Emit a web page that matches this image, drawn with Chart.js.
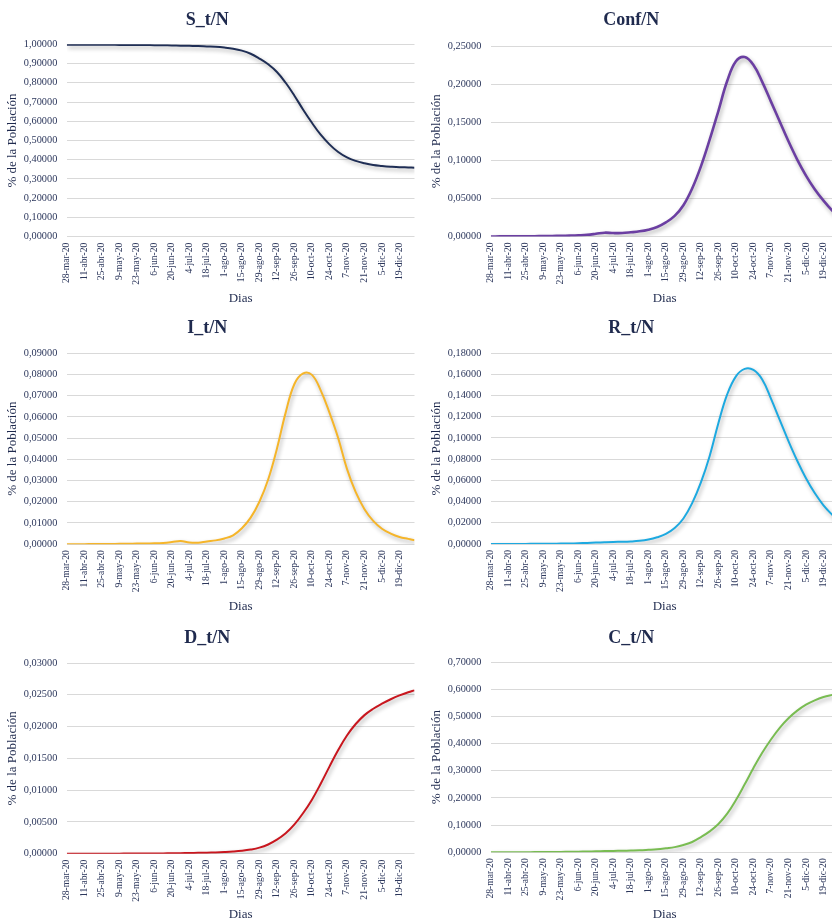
<!DOCTYPE html>
<html>
<head>
<meta charset="utf-8">
<script src="https://cdn.jsdelivr.net/npm/chart.js@4.4.1/dist/chart.umd.min.js"></script>
<style>
  html, body { margin: 0; padding: 0; width: 832px; height: 923px; overflow: hidden; background: #ffffff; }
  canvas { position: absolute; }
</style>
</head>
<body>
<canvas id="panel0"></canvas>
<canvas id="panel1"></canvas>
<canvas id="panel2"></canvas>
<canvas id="panel3"></canvas>
<canvas id="panel4"></canvas>
<canvas id="panel5"></canvas>
<script>
// Day offsets from 28-mar-20 of each sample (weekly, plus the last day 31-dic-20)
const sampleDays = [0, 7, 14, 21, 28, 35, 42, 49, 56, 63, 70, 77, 84, 91, 98, 105, 112, 119, 126, 133,
  140, 147, 154, 161, 168, 175, 182, 189, 196, 203, 210, 217, 224, 231, 238, 245, 252, 259, 266, 273, 278];

// Date labels shown on the x axis, one every 14 days
const xTickLabels = ['28-mar-20', '11-abr-20', '25-abr-20', '9-may-20', '23-may-20', '6-jun-20', '20-jun-20',
  '4-jul-20', '18-jul-20', '1-ago-20', '15-ago-20', '29-ago-20', '12-sep-20', '26-sep-20', '10-oct-20',
  '24-oct-20', '7-nov-20', '21-nov-20', '5-dic-20', '19-dic-20'];

const panelTitles = ['S_t/N', 'Conf/N', 'I_t/N', 'R_t/N', 'D_t/N', 'C_t/N'];

// Share of the population in each compartment
const sShare = [0.998, 0.998, 0.998, 0.998, 0.9975, 0.9975, 0.997, 0.997, 0.9965, 0.996,
  0.9955, 0.995, 0.994, 0.993, 0.992, 0.991, 0.989, 0.987, 0.983, 0.977,
  0.967, 0.951, 0.926, 0.896, 0.856, 0.800, 0.733, 0.660, 0.592, 0.530,
  0.480, 0.440, 0.412, 0.394, 0.382, 0.373, 0.368, 0.364, 0.361, 0.360, 0.359];

const confShare = [0.0000, 0.0001, 0.0001, 0.0002, 0.0003, 0.0004, 0.0005, 0.0007, 0.0009, 0.0012,
  0.0016, 0.0022, 0.0035, 0.0050, 0.0045, 0.0045, 0.0055, 0.0068, 0.0090, 0.0125,
  0.0185, 0.0270, 0.0410, 0.0630, 0.0920, 0.1270, 0.1650, 0.2040, 0.2300, 0.2355,
  0.2250, 0.2030, 0.1770, 0.1510, 0.1250, 0.1010, 0.0800, 0.0620, 0.0470, 0.0340, 0.0270];

const iShare = [0.0000, 0.0000, 0.0000, 0.0001, 0.0001, 0.0001, 0.0002, 0.0002, 0.0003, 0.0003,
  0.0004, 0.0006, 0.0010, 0.0015, 0.0008, 0.0007, 0.0013, 0.0018, 0.0027, 0.0042,
  0.0075, 0.0125, 0.0200, 0.0305, 0.0450, 0.0620, 0.0755, 0.0805, 0.0798, 0.0725,
  0.0620, 0.0500, 0.0355, 0.0245, 0.0165, 0.0110, 0.0073, 0.0050, 0.0034, 0.0025, 0.0019];

const rShare = [0.0000, 0.0000, 0.0000, 0.0001, 0.0001, 0.0002, 0.0002, 0.0003, 0.0004, 0.0005,
  0.0007, 0.0010, 0.0013, 0.0017, 0.0020, 0.0021, 0.0024, 0.0030, 0.0042, 0.0063,
  0.0095, 0.0150, 0.0240, 0.0385, 0.0580, 0.0830, 0.1140, 0.1410, 0.1580, 0.1650,
  0.1640, 0.1550, 0.1370, 0.1170, 0.0970, 0.0785, 0.0620, 0.0480, 0.0365, 0.0275, 0.0220];

const dShare = [0, 0, 0, 0.000002, 0.000004, 0.000006, 0.00001, 0.000015, 0.00002, 0.00003,
  0.00004, 0.00005, 0.00007, 0.00009, 0.00011, 0.00013, 0.00016, 0.0002, 0.00026, 0.00034,
  0.00046, 0.00065, 0.00095, 0.00145, 0.0022, 0.0032, 0.0046, 0.0064, 0.0085, 0.0110,
  0.0137, 0.0163, 0.0186, 0.0204, 0.0218, 0.0228, 0.0236, 0.0243, 0.0249, 0.0254, 0.0257];

const cShare = [0.0001, 0.0002, 0.0003, 0.0004, 0.0005, 0.0007, 0.0009, 0.0012, 0.0015, 0.0019,
  0.0024, 0.0030, 0.0037, 0.0044, 0.0050, 0.0055, 0.0062, 0.0072, 0.0092, 0.0115,
  0.0150, 0.0190, 0.0270, 0.0380, 0.0560, 0.0770, 0.1040, 0.1420, 0.1920, 0.2500,
  0.3100, 0.3660, 0.4150, 0.4580, 0.4930, 0.5210, 0.5430, 0.5590, 0.5710, 0.5790, 0.5840];

// Y-axis ranges
const yMaxima = [1.0, 0.25, 0.09, 0.18, 0.03, 0.7];
const yStepSizes = [0.1, 0.05, 0.01, 0.02, 0.005, 0.1];

const seriesValues = [sShare, confShare, iShare, rShare, dShare, cShare];
const lineColors = ['#1F2E55', '#6B3FA2', '#F5B52A', '#1DA9E0', '#C8161E', '#79BC52'];
const lineWidths = [2, 2.6, 2, 2, 2, 2];

// Placement of each panel on the page (canvas box, plot top/bottom, title and axis-title centres)
const frames = [
  { left: 0,   top: 0,   height: 309, plotTop: 44.3, plotBottom: 236.7, titleY: 20,   xTitleY: 299 },
  { left: 424, top: 0,   height: 309, plotTop: 46,   plotBottom: 236.5, titleY: 20,   xTitleY: 299 },
  { left: 0,   top: 309, height: 310, plotTop: 44.2, plotBottom: 235.2, titleY: 19.3, xTitleY: 297.7 },
  { left: 424, top: 309, height: 310, plotTop: 44,   plotBottom: 235,   titleY: 19.3, xTitleY: 297.7 },
  { left: 0,   top: 619, height: 304, plotTop: 44,   plotBottom: 234.7, titleY: 19.3, xTitleY: 296 },
  { left: 424, top: 619, height: 304, plotTop: 43,   plotBottom: 233.3, titleY: 19.3, xTitleY: 296 }
];

const CANVAS_W = 416;
const Y_AXIS_W = 66.8;
const PLOT_W = 347.7;
const SERIF = "'Liberation Serif', 'Times New Roman', serif";
const TEXT_COLOR = '#1F2A4E';
const TICK_COLOR = '#2C375C';

// Soft drop shadow under each line
const lineShadow = {
  id: 'lineShadow',
  beforeDatasetDraw(chart) {
    const c = chart.ctx;
    c.save();
    c.shadowColor = 'rgba(0,0,0,0.32)';
    c.shadowBlur = 4;
    c.shadowOffsetX = 1.5;
    c.shadowOffsetY = 2.5;
  },
  afterDatasetDraw(chart) {
    chart.ctx.restore();
  }
};

const fmtShare = v => Number(v).toFixed(5).replace('.', ',');

frames.forEach((f, k) => {
  const canvas = document.getElementById('panel' + k);
  canvas.width = CANVAS_W;
  canvas.height = f.height;
  canvas.style.left = f.left + 'px';
  canvas.style.top = f.top + 'px';

  const titleSize = 18, titleLH = titleSize * 1.2;
  const axisSize = 13, axisLH = axisSize * 1.2;
  const values = seriesValues[k];

  new Chart(canvas, {
    type: 'line',
    data: {
      datasets: [{
        data: sampleDays.map((d, i) => ({ x: d, y: values[i] })),
        borderColor: lineColors[k],
        borderWidth: lineWidths[k],
        pointRadius: 0,
        fill: false,
        tension: 0.4
      }]
    },
    options: {
      responsive: false,
      animation: false,
      events: [],
      layout: { padding: { left: 0, top: 0, bottom: 0, right: CANVAS_W - Y_AXIS_W - PLOT_W } },
      plugins: {
        legend: { display: false },
        tooltip: { enabled: false },
        title: {
          display: true,
          text: panelTitles[k],
          color: TEXT_COLOR,
          font: { family: SERIF, size: titleSize, weight: 'bold' },
          padding: { top: f.titleY - titleLH / 2, bottom: f.plotTop - f.titleY - titleLH / 2 }
        }
      },
      scales: {
        x: {
          type: 'linear',
          bounds: 'data',
          min: 0,
          max: 278,
          grid: { display: false, drawTicks: false },
          border: { display: false },
          ticks: {
            stepSize: 14,
            includeBounds: false,
            autoSkip: false,
            minRotation: 90,
            maxRotation: 90,
            padding: 6,
            color: TICK_COLOR,
            font: { family: SERIF, size: 9.6 },
            callback: v => (v % 14 === 0 ? xTickLabels[v / 14] : '')
          },
          title: {
            display: true,
            text: 'Dias',
            color: TEXT_COLOR,
            font: { family: SERIF, size: axisSize },
            padding: { top: 0, bottom: Math.max(0, f.height - f.xTitleY - axisLH / 2) }
          },
          afterFit: s => {
            s.height = f.height - f.plotBottom;
            s.paddingLeft = 0;
            s.paddingRight = 0;
          }
        },
        y: {
          min: 0,
          max: yMaxima[k],
          grid: { color: '#D9D9D9', lineWidth: 1, drawTicks: false },
          border: { display: false },
          ticks: {
            stepSize: yStepSizes[k],
            padding: 9.5,
            color: TICK_COLOR,
            font: { family: SERIF, size: 10.3 },
            callback: fmtShare
          },
          title: {
            display: true,
            text: '% de la Población',
            color: TEXT_COLOR,
            font: { family: SERIF, size: axisSize },
            padding: { top: 5, bottom: 0 }
          },
          afterFit: s => { s.width = Y_AXIS_W; }
        }
      }
    },
    plugins: [lineShadow]
  });
});
</script>
</body>
</html>
